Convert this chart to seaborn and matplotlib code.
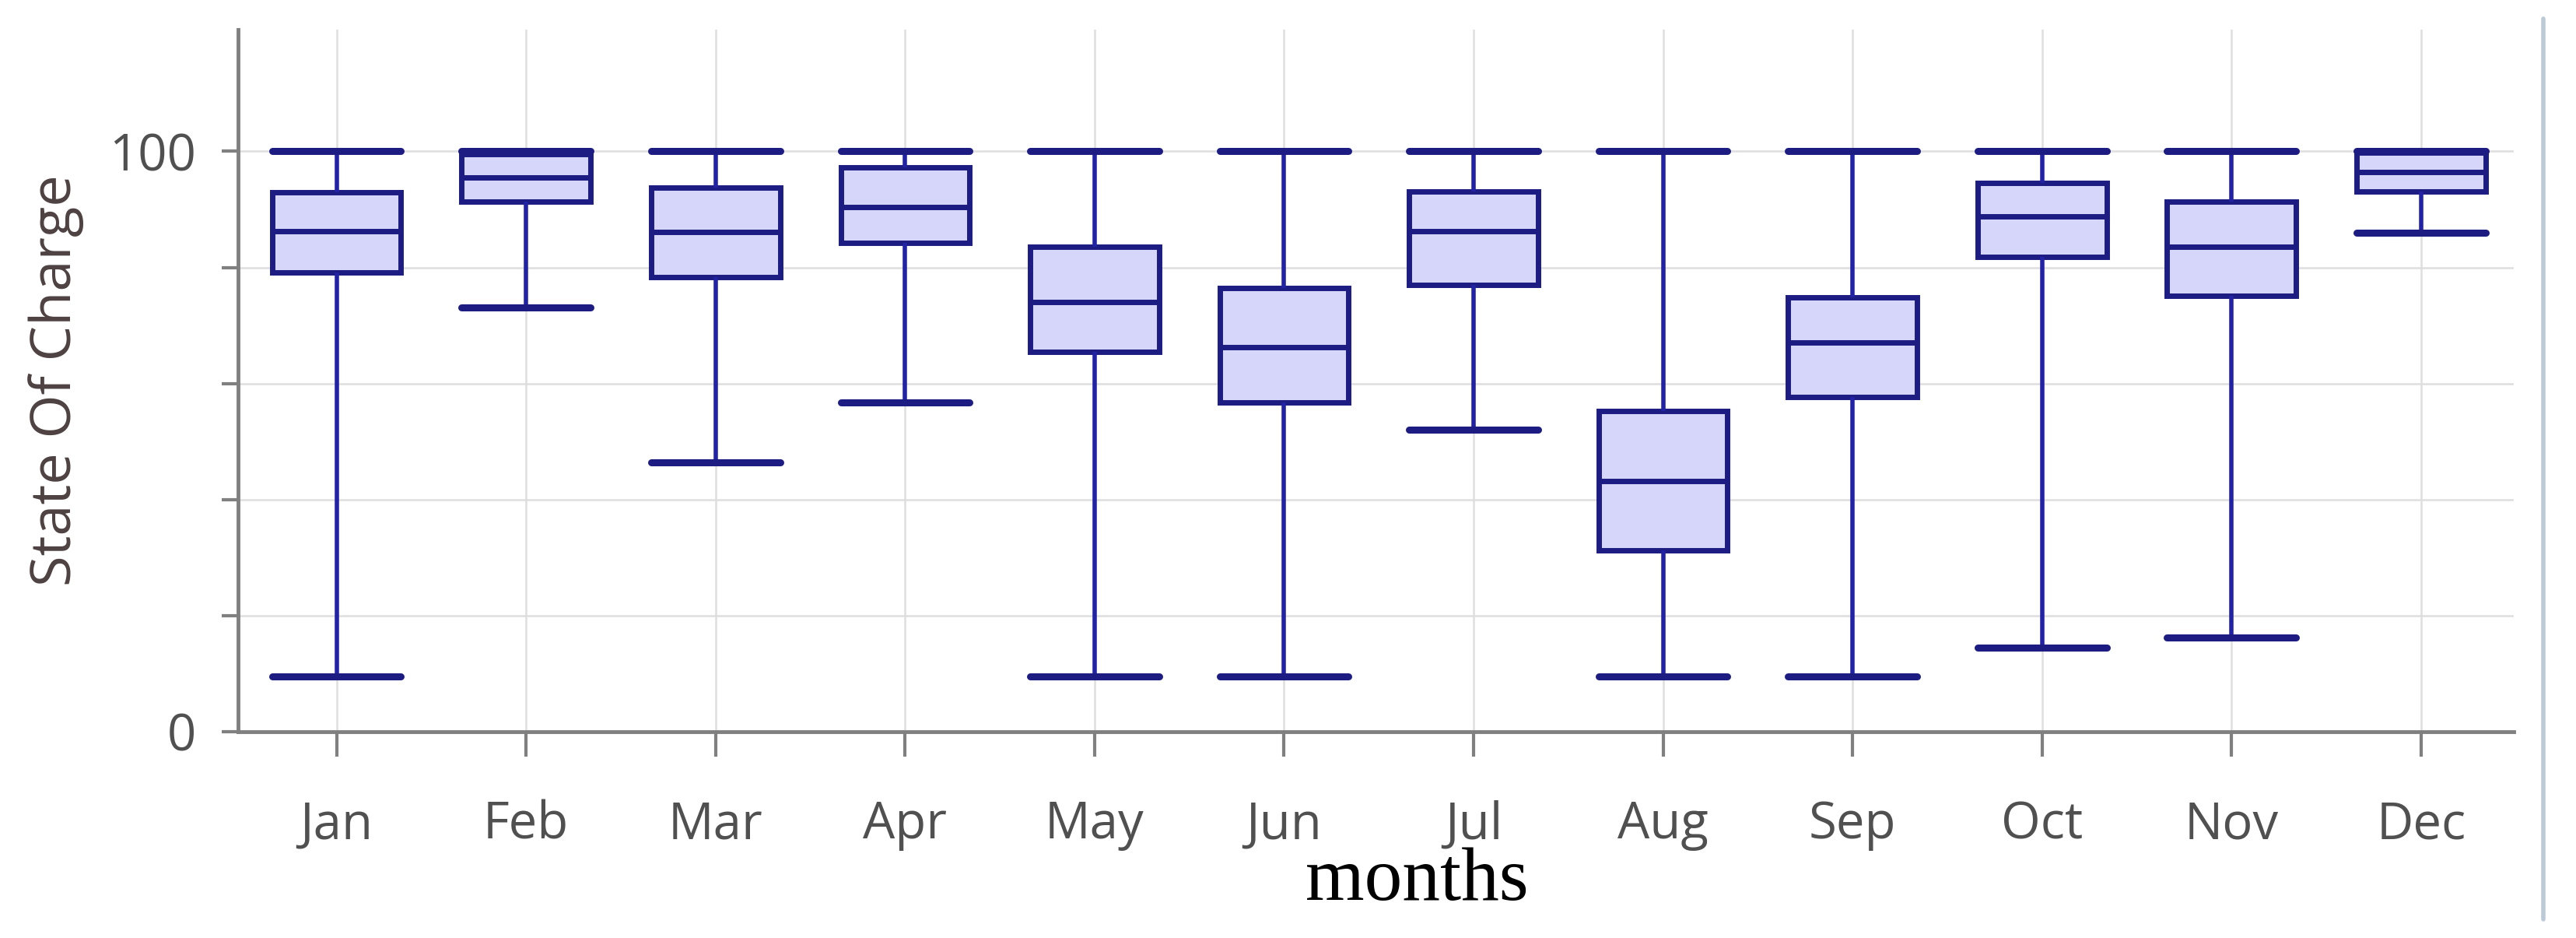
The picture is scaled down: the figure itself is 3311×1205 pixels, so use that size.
import matplotlib
matplotlib.use("Agg")
import matplotlib.pyplot as plt
import pandas as pd
import seaborn as sns
from matplotlib.lines import Line2D

# monthly state of charge, five-number summary
months = ["Jan", "Feb", "Mar", "Apr", "May", "Jun", "Jul", "Aug", "Sep", "Oct", "Nov", "Dec"]
soc_min = [9.5, 73.1, 46.4, 56.7, 9.5, 9.5, 52.0, 9.5, 9.5, 14.5, 16.2, 86.0]
soc_q1 = [79.2, 91.3, 78.4, 84.3, 65.5, 56.8, 77.0, 31.2, 57.7, 81.8, 75.1, 93.1]
soc_median = [86.2, 95.5, 86.1, 90.4, 74.0, 66.3, 86.3, 43.2, 67.1, 88.8, 83.6, 96.5]
soc_q3 = [93.0, 99.5, 93.8, 97.3, 83.5, 76.5, 93.1, 55.2, 74.9, 94.6, 91.3, 99.8]
soc_max = [100, 100, 100, 100, 100, 100, 100, 100, 100, 100, 100, 100]

ytick_values = [0, 20, 40, 60, 80, 100]
ytick_labels = ["0", "", "", "", "", "100"]

BOX_FILL = "#d6d6fa"
EDGE = "#1c1c82"
WHISKER = "#2222a4"
AXIS_GRAY = "#808080"
GRID = "#dedede"
TEXT_GRAY = "#505050"


def build_frame() -> pd.DataFrame:
    rows = []
    for i, month in enumerate(months):
        for value in (soc_min[i], soc_q1[i], soc_median[i], soc_q3[i], soc_max[i]):
            rows.append({"month": month, "soc": value})
    return pd.DataFrame(rows)


def main() -> None:
    sns.set_theme(style="whitegrid")
    plt.rcParams["font.family"] = ["Open Sans", "DejaVu Sans"]

    df = build_frame()

    fig = plt.figure(figsize=(33.12, 12.05), dpi=100)
    ax = fig.add_axes([0.0924, 0.22, 0.8832, 0.7485])

    sns.boxplot(
        data=df,
        x="month",
        y="soc",
        order=months,
        whis=(0, 100),
        width=0.68,
        color=BOX_FILL,
        saturation=1,
        linecolor=EDGE,
        linewidth=5,
        whiskerprops=dict(color=WHISKER, linewidth=4),
        capprops=dict(color=EDGE, linewidth=6.5),
        medianprops=dict(color=EDGE, linewidth=5),
        capwidths=0.68,
        ax=ax,
    )

    ax.set_xlim(-0.52, 11.49)
    ax.set_ylim(0, 121)
    ax.set_yticks(ytick_values)
    ax.set_yticklabels(ytick_labels)

    ax.set_axisbelow(True)
    ax.grid(True, axis="both", color=GRID, linewidth=1.8)

    for side in ("top", "right"):
        ax.spines[side].set_visible(False)
    for side in ("left", "bottom"):
        ax.spines[side].set_color(AXIS_GRAY)
        ax.spines[side].set_linewidth(3.5)

    ax.tick_params(axis="y", direction="out", length=15, width=3, color=AXIS_GRAY,
                   pad=24, labelsize=47, labelcolor=TEXT_GRAY, left=True)
    ax.tick_params(axis="x", direction="out", length=23, width=3, color=AXIS_GRAY,
                   pad=40, labelsize=47, labelcolor=TEXT_GRAY, bottom=True)

    ax.set_ylabel("State Of Charge", fontsize=52, color="#4d4141", va="center")
    ax.yaxis.set_label_coords(-0.080, 0.5)
    ax.set_xlabel("months", fontsize=70, color="black", va="baseline",
                  family=["Liberation Serif", "DejaVu Serif"])
    ax.xaxis.set_label_coords(0.518, -0.24)

    fig.add_artist(Line2D([0.987, 0.987], [0.02, 0.98], transform=fig.transFigure,
                          color="#bccad8", linewidth=4))

    fig.savefig("out.png", dpi=100)
    plt.close(fig)


if __name__ == "__main__":
    main()
